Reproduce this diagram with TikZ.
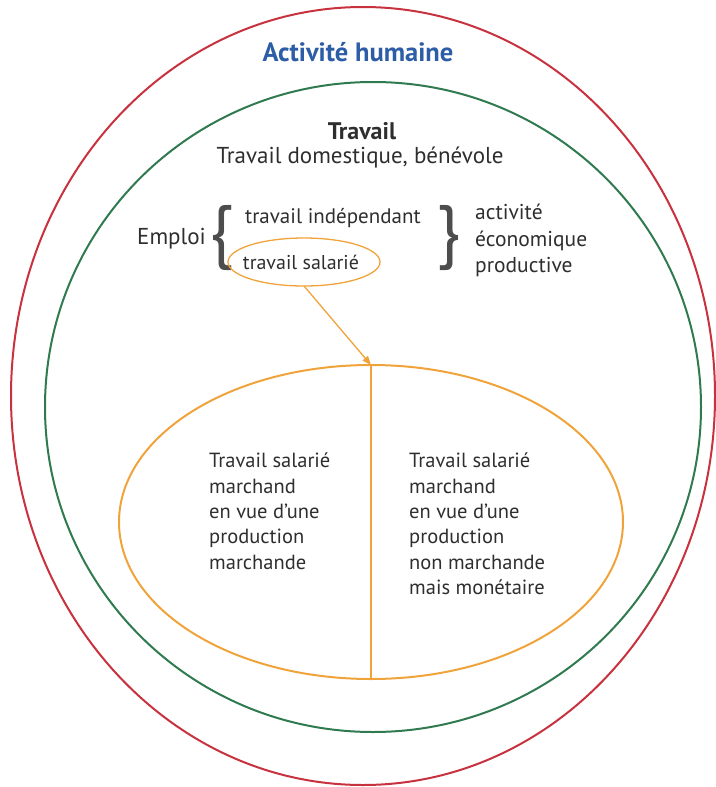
\documentclass[tikz,border=0pt]{standalone}
\usepackage{fontspec}
\setmainfont{PT Sans}
\usetikzlibrary{shapes.geometric,arrows.meta}
\definecolor{cred}{HTML}{C8323F}
\definecolor{cgreen}{HTML}{2F7A4E}
\definecolor{corange}{HTML}{F0A33A}
\definecolor{cblue}{HTML}{2C5DA6}
\definecolor{ctext}{HTML}{2E2E2E}
\tikzset{
  oval/.style={ellipse,draw,inner sep=0pt,outer sep=0pt},
  lbl/.style={text=ctext,font=\fontsize{21}{25}\selectfont,inner sep=0pt},
  block/.style={lbl,align=left,anchor=north west,font=\fontsize{20.5}{25.3}\selectfont},
  brace/.style={text=ctext!85,font=\fontsize{70}{70}\selectfont,inner sep=0pt},
}
\begin{document}
\begin{tikzpicture}[x=1pt,y=-1pt]
\useasboundingbox (0,0) rectangle (715,787);
\node[oval,draw=cred,line width=2pt,minimum width=704pt,minimum height=778pt] (human) at (363,396) {};
\node[oval,draw=cgreen,line width=2pt,minimum width=656pt,minimum height=650pt] (work) at (373,407) {};
\node[text=cblue,font=\fontsize{26.5}{30}\selectfont\bfseries,inner sep=0pt] (title) at (358,52) {Activité humaine};
\node[lbl,font=\fontsize{24}{28}\selectfont\bfseries] (travail) at (362,131) {Travail};
\node[lbl,font=\fontsize{23}{27}\selectfont] (dom) at (360,158) {Travail domestique, bénévole};
\node[lbl,anchor=west,font=\fontsize{23}{27}\selectfont] (emploi) at (137,239) {Emploi};
\node[brace] (lb) at (222,238) {\{};
\node[lbl,anchor=west] (indep) at (245,218) {travail indépendant};
\node[oval,draw=corange,line width=1.3pt,minimum width=152pt,minimum height=48pt] (sal) at (304,262) {};
\node[lbl,font=\fontsize{20}{24}\selectfont] (saltext) at (301,262) {travail salarié};
\node[brace] (rb) at (449,238) {\}};
\node[lbl,anchor=north west,align=left,font=\fontsize{21.5}{26.5}\selectfont] (eco) at (475,204) {activité\\économique\\productive};
\node[oval,draw=corange,line width=2pt,minimum width=504pt,minimum height=314pt] (big) at (371,522) {};
\draw[corange,line width=2pt] (big.north) -- (big.south);
\draw[corange,line width=1.3pt,-{Triangle[length=9pt,width=7pt]}] (sal.south) -- (big.north);
\node[block] (left) at (209,453) {Travail salarié\\marchand\\en vue d’une\\production\\marchande};
\node[block] (right) at (409,453) {Travail salarié\\marchand\\en vue d’une\\production\\non marchande\\mais monétaire};
\end{tikzpicture}
\end{document}
